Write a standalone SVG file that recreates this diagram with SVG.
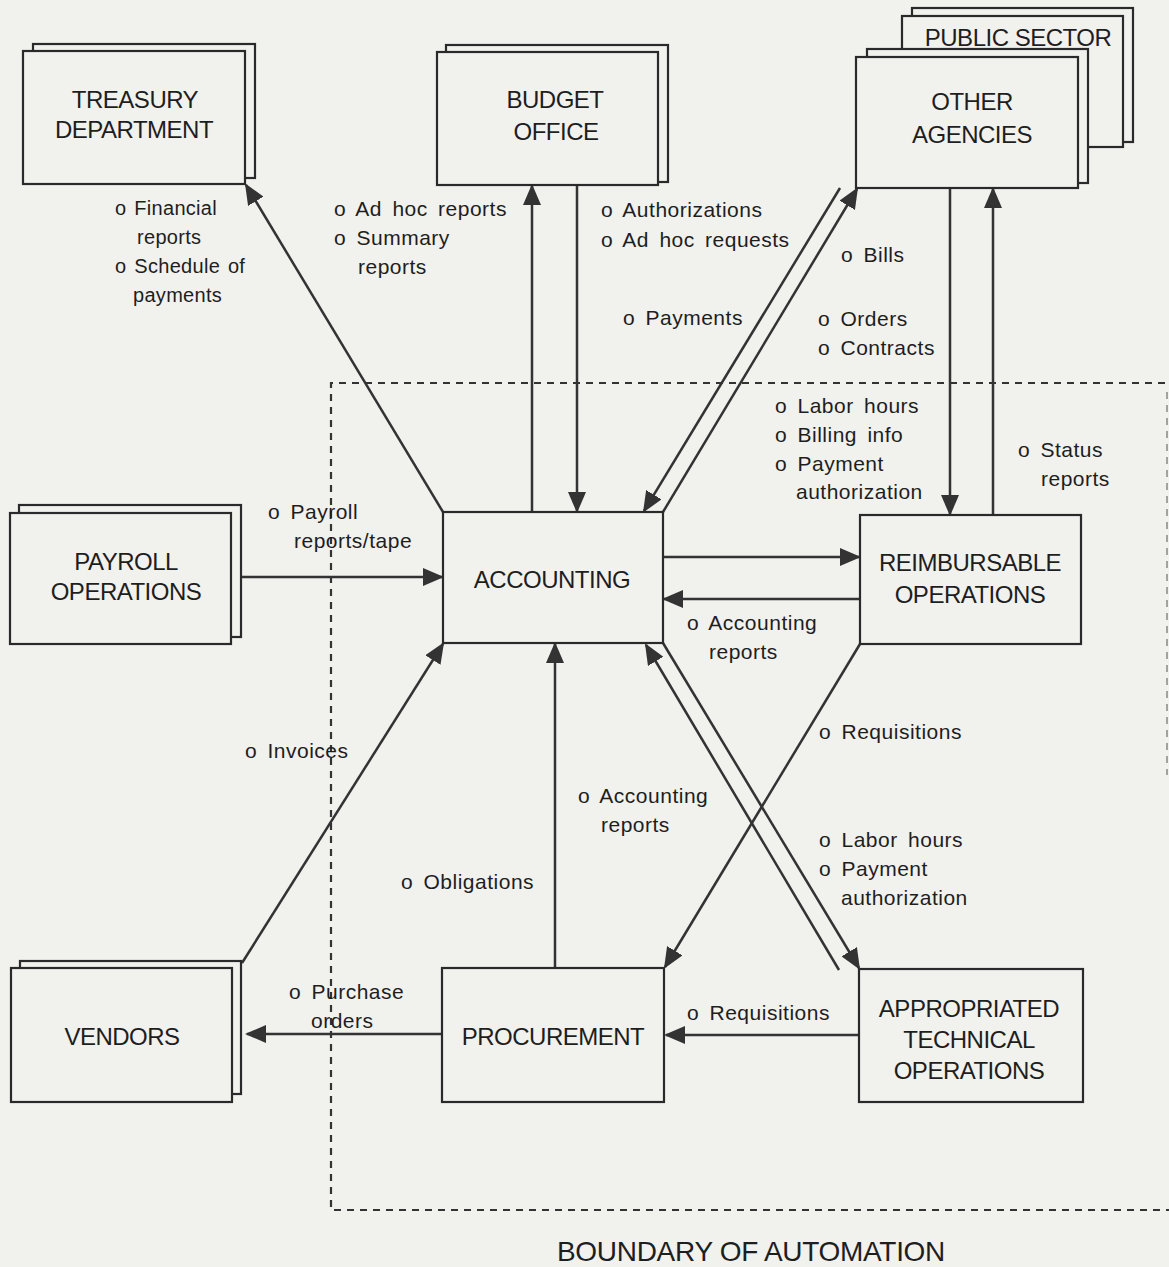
<svg xmlns="http://www.w3.org/2000/svg" width="1169" height="1267" viewBox="0 0 1169 1267">
<defs>
<style>
.bg{fill:#f1f1ee}
.box{fill:#f1f1ee;stroke:#2a2a2a;stroke-width:2.2}
.node{font-family:"Liberation Sans",Arial,sans-serif;font-size:24px;letter-spacing:-0.5px;fill:#1e1e1e;text-anchor:middle}
.lbl{font-family:"Liberation Sans",Arial,sans-serif;font-size:21px;letter-spacing:0.5px;word-spacing:4px;fill:#1e1e1e}
.sm{font-size:20px;letter-spacing:0.3px;word-spacing:2px}
.conn{stroke:#333;stroke-width:2.5;fill:none;marker-end:url(#ah)}
.dash{stroke:#333;stroke-width:2.2;fill:none;stroke-dasharray:7 6}
.title{font-family:"Liberation Sans",Arial,sans-serif;font-size:28px;letter-spacing:-0.3px;fill:#1e1e1e;text-anchor:middle}
</style>
<marker id="ah" markerUnits="userSpaceOnUse" markerWidth="22" markerHeight="18" refX="19" refY="9" orient="auto">
<path d="M0,0 L21,9 L0,18 Z" fill="#333"/>
</marker>
</defs>
<rect class="bg" x="0" y="0" width="1169" height="1267"/>

<g id="boundary">
<path class="dash" d="M1165,383 L331,383 L331,1210 L1169,1210"/>
<path d="M1167,392 L1167,775" stroke="#888" stroke-width="1.5" stroke-dasharray="7 6" fill="none"/>
<text class="title" x="751" y="1261">BOUNDARY OF AUTOMATION</text>
</g>

<g id="connectors">
<line class="conn" x1="443" y1="512" x2="246" y2="185"/>
<line class="conn" x1="532" y1="512" x2="532" y2="186"/>
<line class="conn" x1="577" y1="186" x2="577" y2="511"/>
<line class="conn" x1="663" y1="512" x2="857" y2="189"/>
<line class="conn" x1="840" y1="188" x2="644" y2="511"/>
<line class="conn" x1="950" y1="188" x2="950" y2="514"/>
<line class="conn" x1="993" y1="515" x2="993" y2="189"/>
<line class="conn" x1="241" y1="577" x2="442" y2="577"/>
<line class="conn" x1="663" y1="557" x2="859" y2="557"/>
<line class="conn" x1="860" y1="599" x2="664" y2="599"/>
<line class="conn" x1="242" y1="963" x2="443" y2="644"/>
<line class="conn" x1="555" y1="968" x2="555" y2="644"/>
<line class="conn" x1="839" y1="970" x2="646" y2="645"/>
<line class="conn" x1="663" y1="643" x2="859" y2="968"/>
<line class="conn" x1="860" y1="644" x2="665" y2="967"/>
<line class="conn" x1="442" y1="1034" x2="247" y2="1034"/>
<line class="conn" x1="859" y1="1035" x2="666" y2="1035"/>
</g>

<g id="treasury">
<rect class="box" x="33" y="44" width="222" height="134"/>
<rect class="box" x="23" y="51" width="222" height="133"/>
<text class="node" x="135" y="108">TREASURY</text>
<text class="node" x="134" y="138">DEPARTMENT</text>
</g>

<g id="budget">
<rect class="box" x="446" y="45" width="222" height="137"/>
<rect class="box" x="437" y="52" width="221" height="133"/>
<text class="node" x="555" y="108">BUDGET</text>
<text class="node" x="556" y="140">OFFICE</text>
</g>

<g id="public-sector">
<rect class="box" x="912" y="8" width="221" height="134"/>
<rect class="box" x="902" y="16" width="221" height="131"/>
<text class="node" x="1018" y="46">PUBLIC SECTOR</text>
</g>

<g id="other-agencies">
<rect class="box" x="867" y="49" width="221" height="134"/>
<rect class="box" x="856" y="57" width="222" height="131"/>
<text class="node" x="972" y="110">OTHER</text>
<text class="node" x="972" y="143">AGENCIES</text>
</g>

<g id="payroll">
<rect class="box" x="19" y="505" width="222" height="132"/>
<rect class="box" x="10" y="513" width="221" height="131"/>
<text class="node" x="126" y="570">PAYROLL</text>
<text class="node" x="126" y="600">OPERATIONS</text>
</g>

<g id="accounting">
<rect class="box" x="443" y="512" width="220" height="131"/>
<text class="node" x="552" y="588">ACCOUNTING</text>
</g>

<g id="reimbursable">
<rect class="box" x="860" y="515" width="221" height="129"/>
<text class="node" x="970" y="571">REIMBURSABLE</text>
<text class="node" x="970" y="603">OPERATIONS</text>
</g>

<g id="vendors">
<rect class="box" x="20" y="961" width="221" height="133"/>
<rect class="box" x="11" y="968" width="221" height="134"/>
<text class="node" x="122" y="1045">VENDORS</text>
</g>

<g id="procurement">
<rect class="box" x="442" y="968" width="222" height="134"/>
<text class="node" x="553" y="1045">PROCUREMENT</text>
</g>

<g id="appropriated">
<rect class="box" x="859" y="969" width="224" height="133"/>
<text class="node" x="969" y="1017">APPROPRIATED</text>
<text class="node" x="969" y="1048">TECHNICAL</text>
<text class="node" x="969" y="1079">OPERATIONS</text>
</g>

<g id="labels">
<text class="lbl sm" x="115" y="215">o Financial</text>
<text class="lbl sm" x="137" y="244">reports</text>
<text class="lbl sm" x="115" y="273">o Schedule of</text>
<text class="lbl sm" x="133" y="302">payments</text>

<text class="lbl" x="334" y="216">o Ad hoc reports</text>
<text class="lbl" x="334" y="245">o Summary</text>
<text class="lbl" x="358" y="274">reports</text>

<text class="lbl" x="601" y="217">o  Authorizations</text>
<text class="lbl" x="601" y="247">o Ad hoc requests</text>

<text class="lbl" x="623" y="325">o Payments</text>
<text class="lbl" x="841" y="262">o Bills</text>
<text class="lbl" x="818" y="326">o Orders</text>
<text class="lbl" x="818" y="355">o Contracts</text>

<text class="lbl" x="775" y="413">o Labor hours</text>
<text class="lbl" x="775" y="442">o Billing info</text>
<text class="lbl" x="775" y="471">o Payment</text>
<text class="lbl" x="796" y="499">authorization</text>

<text class="lbl" x="1018" y="457">o Status</text>
<text class="lbl" x="1041" y="486">reports</text>

<text class="lbl" x="268" y="519">o Payroll</text>
<text class="lbl" x="294" y="548">reports/tape</text>

<text class="lbl" x="687" y="630">o Accounting</text>
<text class="lbl" x="709" y="659">reports</text>

<text class="lbl" x="819" y="739">o Requisitions</text>
<text class="lbl" x="245" y="758">o Invoices</text>

<text class="lbl" x="578" y="803">o Accounting</text>
<text class="lbl" x="601" y="832">reports</text>

<text class="lbl" x="819" y="847">o Labor hours</text>
<text class="lbl" x="819" y="876">o Payment</text>
<text class="lbl" x="841" y="905">authorization</text>

<text class="lbl" x="401" y="889">o Obligations</text>

<text class="lbl" x="289" y="999">o Purchase</text>
<text class="lbl" x="311" y="1028">orders</text>

<text class="lbl" x="687" y="1020">o Requisitions</text>
</g>
</svg>
